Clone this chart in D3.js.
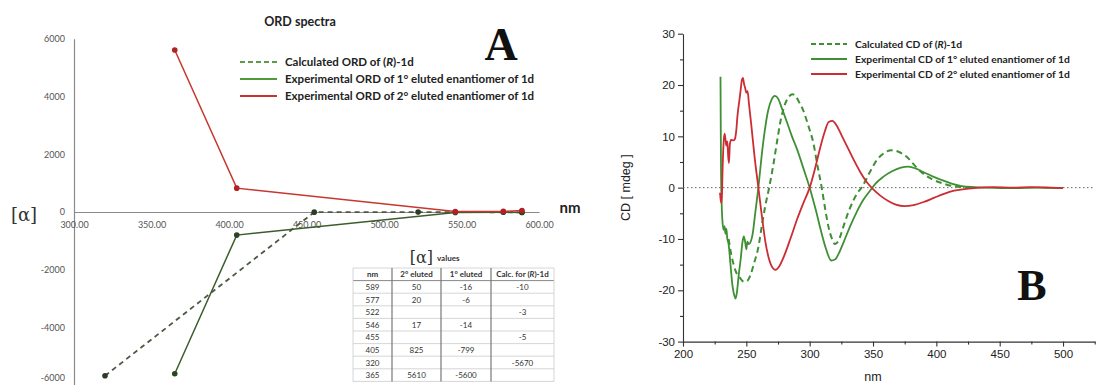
<!DOCTYPE html>
<html>
<head>
<meta charset="utf-8">
<script src="https://cdn.jsdelivr.net/npm/d3@7"></script>
<style>
  body { margin: 0; background: #fff; }
  svg { display: block; }
</style>
</head>
<body>
<script>
// ORD table ([α] values)
const tableNm = [589, 577, 522, 546, 455, 405, 320, 365]
const table2nd = [50, 20, null, 17, null, 825, null, 5610]
const table1st = [-16, -6, null, -14, null, -799, null, -5600]
const tableCalc = [-10, null, -3, null, -5, null, -5670, null]
const tableHead = ['nm', '2° eluted', '1° eluted', 'Calc. for (R)-1d']

const ordXTicks = [300, 350, 400, 450, 500, 550, 600]
const ordYTicks = [6000, 4000, 2000, 0, -2000, -4000, -6000]

// CD spectra [nm, mdeg]
const cdCalc = [[236, -10], [238.5, -13.5], [241.5, -16.2], [245, -17.6], [248, -18.3], [250.5, -18.2], [253, -17.2], [256, -14.8], [259.5, -11.6], [262.5, -7], [265, -3.5], [268, 0], [271, 4], [274, 8.6], [277, 13], [280, 15.9], [283.5, 17.7], [286.5, 18.2], [289.5, 17.6], [292, 16.5], [295, 15], [299, 12], [303, 8.6], [306, 4.5], [309.5, 0], [312, -3.8], [314.8, -7.6], [317.5, -9.9], [320, -11], [323, -10.2], [326.6, -7.6], [330.5, -4.8], [334.5, -2.5], [338, -0.9], [341, 0], [347, 2.8], [352.8, 5.3], [358, 6.6], [364.7, 7.3], [370, 7], [376.6, 6], [383, 4.3], [389.7, 2.7], [397, 1.6], [405.5, 0.8], [413, 0.3], [421, 0.1], [430, 0]]
const cdExp1 = [[229.6, 21.6], [229.8, 12], [230, 4], [230.4, -2], [231, -6], [232, -8.2], [232.8, -7.5], [233.5, -9], [234.2, -8], [235, -10], [236, -11], [237.5, -15], [239, -19], [240.5, -21], [241.5, -21.6], [242.5, -20.5], [244, -17], [245.5, -14], [247, -10.5], [248, -9.5], [249, -10.5], [250, -12], [250.8, -10.5], [252, -11], [253.5, -10.5], [255, -9], [257, -5], [259.5, 0], [262, 6], [264.5, 11], [267, 14.8], [270, 17.2], [272.5, 17.9], [275, 17.4], [278, 15.5], [282, 12.8], [286, 10], [290, 7.5], [295, 3.8], [300, 0], [305, -4.5], [309, -8.5], [313, -12], [317, -14.2], [320, -14], [323, -12.8], [327, -10.5], [332, -7.5], [337, -4.8], [342, -2.5], [347, -0.8], [352, 0.8], [358, 2.1], [365, 3.2], [372, 3.9], [378, 4.1], [384, 3.7], [390, 3], [397, 2.2], [405, 1.4], [412, 0.8], [420, 0.3], [430, 0.1], [440, 0], [460, -0.1], [480, 0], [500, -0.1]]
const cdExp2 = [[229.2, -1], [229.8, -2.5], [230.3, -3], [230.8, -1], [231.3, 4], [232, 8.5], [232.8, 10.5], [233.5, 9.5], [234.2, 8.2], [235, 9], [235.7, 6], [236.3, 4.8], [237, 8.5], [238, 9.3], [240, 9.2], [241, 9.5], [242, 11], [243, 14], [244.5, 17], [245.5, 19], [246.5, 21], [247.3, 21.4], [248.2, 20.2], [249, 19.5], [250, 18.5], [251, 18.8], [252, 16.5], [254, 12], [256.5, 6], [259.5, 0], [262, -5], [265, -10.5], [268, -14], [271, -15.7], [273, -16], [276, -15.3], [280, -13.2], [285, -9.8], [290, -6.2], [295, -3], [300, 0], [304, 3.5], [308, 7.5], [312, 11], [315, 12.8], [318, 13], [321, 12.2], [325, 10.3], [330, 7.8], [335, 5.3], [340, 3], [345, 1.1], [350, -0.3], [356, -1.6], [362, -2.6], [368, -3.3], [375, -3.6], [382, -3.4], [390, -2.8], [398, -2], [406, -1.2], [414, -0.6], [422, -0.3], [430, -0.1], [445, 0.1], [460, 0], [475, 0.1], [490, 0], [500, -0.1]]

const cdXMajor = [200, 250, 300, 350, 400, 450, 500]
const cdXMinor = [225, 275, 325, 375, 425, 475, 525]
const cdYMajor = [-30, -20, -10, 0, 10, 20, 30]
const cdYMinor = [-25, -15, -5, 5, 15, 25]

const RED = '#cc2c33'
const GREEN = '#3f8f35'

const svg = d3.select('body').append('svg')
  .attr('width', 1111)
  .attr('height', 385)
  .attr('viewBox', '0 0 1111 385')

// ---------------- Panel A: ORD ----------------
const ord = svg.append('g').attr('font-family', 'Lato, "Open Sans", sans-serif')

const xOrd = d3.scaleLinear().domain([300, 600]).range([74, 539])
const yOrd = d3.scaleLinear().domain([-6000, 6000]).range([385.3, 38.7])

const seriesFrom = vals => tableNm
  .map((nm, i) => [nm, vals[i]])
  .filter(d => d[1] !== null)
  .sort((a, b) => a[0] - b[0])

const ordSeries = [
  { data: seriesFrom(tableCalc), color: '#4d5a43', marker: '#2e3a26', dash: '5,4' },
  { data: seriesFrom(table1st), color: '#3d5c2c', marker: '#2c4520', dash: null },
  { data: seriesFrom(table2nd), color: '#c7372f', marker: '#b32025', dash: null }
]

const yAxisOrd = ord.append('g')
  .attr('transform', `translate(${xOrd(300)},0)`)
  .call(d3.axisLeft(yOrd).tickValues(ordYTicks).tickSize(0).tickPadding(9).tickFormat(d => String(d)))
yAxisOrd.select('.domain').attr('stroke', '#8a8a8a').attr('stroke-width', 1.2)
yAxisOrd.selectAll('text').attr('fill', '#555').style('font-size', '9px').style('font-family', 'Lato, sans-serif')
// bottom label sits right at the picture edge; lift it just enough to stay whole
yAxisOrd.selectAll('.tick').filter(d => d === -6000).select('text').attr('dy', '-0.55em')

const xAxisOrd = ord.append('g')
  .attr('transform', `translate(0,${yOrd(0)})`)
  .call(d3.axisBottom(xOrd).tickValues(ordXTicks).tickSize(0).tickPadding(10).tickFormat(d3.format('.2f')))
xAxisOrd.select('.domain').attr('stroke', '#8a8a8a').attr('stroke-width', 1.2)
xAxisOrd.selectAll('text').attr('fill', '#555').style('font-size', '9px').style('font-family', 'Lato, sans-serif')

const lineOrd = d3.line().x(d => xOrd(d[0])).y(d => yOrd(d[1]))

ordSeries.forEach(s => {
  ord.append('path')
    .datum(s.data)
    .attr('d', lineOrd)
    .attr('fill', 'none')
    .attr('stroke', s.color)
    .attr('stroke-width', s.dash ? 1.8 : 1.5)
    .attr('stroke-dasharray', s.dash)
  ord.append('g').selectAll('circle')
    .data(s.data)
    .join('circle')
    .attr('cx', d => xOrd(d[0]))
    .attr('cy', d => yOrd(d[1]))
    .attr('r', 2.8)
    .attr('fill', s.marker)
})

ord.append('text')
  .attr('x', 300).attr('y', 26)
  .attr('text-anchor', 'middle')
  .attr('font-weight', 700).attr('font-size', 12.5).attr('fill', '#222')
  .text('ORD spectra')

ord.append('text')
  .attr('x', 570).attr('y', 213)
  .attr('text-anchor', 'middle')
  .attr('font-weight', 700).attr('font-size', 15).attr('fill', '#222')
  .text('nm')

ord.append('text')
  .attr('x', 24).attr('y', 221)
  .attr('text-anchor', 'middle')
  .attr('font-family', '"DejaVu Serif", serif')
  .attr('font-size', 18).attr('fill', '#333')
  .text('[α]')

svg.append('text')
  .attr('x', 501).attr('y', 60)
  .attr('text-anchor', 'middle')
  .attr('font-family', '"Liberation Serif", serif')
  .attr('font-weight', 700).attr('font-size', 46).attr('fill', '#111')
  .text('A')

// ORD legend
const ordLegend = [
  { pre: 'Calculated ORD of (', it: 'R', post: ')-1d', color: '#5f9a47', dash: '5,3' },
  { pre: 'Experimental ORD of 1° eluted enantiomer of 1d', color: '#4f9a3c', dash: null },
  { pre: 'Experimental ORD of 2° eluted enantiomer of 1d', color: '#c0392b', dash: null }
]
const legA = ord.append('g')
ordLegend.forEach((d, i) => {
  const y = 62 + i * 17
  legA.append('line')
    .attr('x1', 240).attr('x2', 277).attr('y1', y).attr('y2', y)
    .attr('stroke', d.color).attr('stroke-width', 2).attr('stroke-dasharray', d.dash)
  const t = legA.append('text')
    .attr('x', 285).attr('y', y + 4)
    .attr('font-size', 11.5).attr('font-weight', 700).attr('fill', '#222')
  t.append('tspan').text(d.pre)
  if (d.it) {
    t.append('tspan').attr('font-style', 'italic').text(d.it)
    t.append('tspan').text(d.post)
  }
})

// [α] values table
const tbl = ord.append('g').attr('font-size', 8).attr('fill', '#333')
const colX = [353, 392, 441, 491, 554]
const rowH = 12.6
const tblTop = 268
tbl.append('text')
  .attr('x', 433).attr('y', 263)
  .attr('text-anchor', 'end')
  .attr('font-family', '"DejaVu Serif", serif')
  .attr('font-size', 16)
  .text('[α]')
tbl.append('text')
  .attr('x', 437).attr('y', 261)
  .attr('font-size', 8).attr('font-weight', 700)
  .text('values')

const rows = tableNm.map((nm, i) => [nm, table2nd[i], table1st[i], tableCalc[i]])
const nRows = rows.length + 1
for (let r = 0; r <= nRows; r++) {
  tbl.append('line')
    .attr('x1', colX[0]).attr('x2', colX[4])
    .attr('y1', tblTop + r * rowH).attr('y2', tblTop + r * rowH)
    .attr('stroke', r === 1 ? '#888' : '#ccc').attr('stroke-width', r === 1 ? 1 : 0.8)
}
colX.forEach((x, c) => {
  tbl.append('line')
    .attr('x1', x).attr('x2', x)
    .attr('y1', tblTop).attr('y2', tblTop + nRows * rowH)
    .attr('stroke', c === 0 || c === 4 ? '#ccc' : '#777').attr('stroke-width', c === 0 || c === 4 ? 0.8 : 1.2)
})
tableHead.forEach((h, c) => {
  const t = tbl.append('text')
    .attr('x', (colX[c] + colX[c + 1]) / 2)
    .attr('y', tblTop + rowH / 2 + 3)
    .attr('text-anchor', 'middle')
    .attr('font-weight', 700)
  if (c === 3) {
    t.append('tspan').text('Calc. for (')
    t.append('tspan').attr('font-style', 'italic').text('R')
    t.append('tspan').text(')-1d')
  } else {
    t.text(h)
  }
})
rows.forEach((row, r) => {
  row.forEach((v, c) => {
    if (v === null) return
    tbl.append('text')
      .attr('x', (colX[c] + colX[c + 1]) / 2)
      .attr('y', tblTop + (r + 1) * rowH + rowH / 2 + 3)
      .attr('text-anchor', 'middle')
      .text(String(v))
  })
})

// ---------------- Panel B: CD ----------------
const cd = svg.append('g').attr('font-family', '"Liberation Sans", Arial, sans-serif')

const xCd = d3.scaleLinear().domain([200, 525]).range([683, 1094.7])
const yCd = d3.scaleLinear().domain([-30, 30]).range([341.6, 33.7])

const styleAxis = g => {
  g.select('.domain').attr('stroke', '#333').attr('stroke-width', 1.1)
  g.selectAll('.tick line').attr('stroke', '#333').attr('stroke-width', 1.1)
  g.selectAll('text').attr('fill', '#222').style('font-size', '11.5px')
}

cd.append('g')
  .attr('transform', `translate(0,${yCd(-30)})`)
  .call(d3.axisBottom(xCd).tickValues(cdXMajor).tickSizeInner(5).tickSizeOuter(0).tickPadding(3))
  .call(styleAxis)
cd.append('g')
  .attr('transform', `translate(0,${yCd(-30)})`)
  .call(d3.axisBottom(xCd).tickValues(cdXMinor).tickSize(3).tickFormat(''))
  .call(g => g.select('.domain').remove())
  .call(styleAxis)

cd.append('g')
  .attr('transform', `translate(${xCd(200)},0)`)
  .call(d3.axisLeft(yCd).tickValues(cdYMajor).tickSizeInner(5).tickSizeOuter(0).tickPadding(3).tickFormat(d => String(d)))
  .call(styleAxis)
cd.append('g')
  .attr('transform', `translate(${xCd(200)},0)`)
  .call(d3.axisLeft(yCd).tickValues(cdYMinor).tickSize(3).tickFormat(''))
  .call(g => g.select('.domain').remove())
  .call(styleAxis)

cd.append('line')
  .attr('x1', xCd(200)).attr('x2', xCd(525))
  .attr('y1', yCd(0)).attr('y2', yCd(0))
  .attr('stroke', '#666').attr('stroke-width', 1).attr('stroke-dasharray', '1.5,2.5')

const lineCd = d3.line().x(d => xCd(d[0])).y(d => yCd(d[1])).curve(d3.curveMonotoneX)

cd.append('path').datum(cdCalc)
  .attr('d', lineCd).attr('fill', 'none')
  .attr('stroke', GREEN).attr('stroke-width', 2).attr('stroke-dasharray', '6,4')
cd.append('path').datum(cdExp1)
  .attr('d', lineCd).attr('fill', 'none')
  .attr('stroke', GREEN).attr('stroke-width', 1.8)
cd.append('path').datum(cdExp2)
  .attr('d', lineCd).attr('fill', 'none')
  .attr('stroke', RED).attr('stroke-width', 1.8)

cd.append('text')
  .attr('x', xCd(350)).attr('y', 381)
  .attr('text-anchor', 'middle').attr('font-size', 12.5).attr('fill', '#222')
  .text('nm')

cd.append('text')
  .attr('transform', `translate(630,${yCd(0)}) rotate(-90)`)
  .attr('text-anchor', 'middle').attr('font-size', 12.5).attr('fill', '#222')
  .text('CD [ mdeg ]')

svg.append('text')
  .attr('x', 1032).attr('y', 300)
  .attr('text-anchor', 'middle')
  .attr('font-family', '"Liberation Serif", serif')
  .attr('font-weight', 700).attr('font-size', 44).attr('fill', '#111')
  .text('B')

const cdLegend = [
  { pre: 'Calculated CD of (', it: 'R', post: ')-1d', color: GREEN, dash: '5,3' },
  { pre: 'Experimental CD of 1° eluted enantiomer of 1d', color: GREEN, dash: null },
  { pre: 'Experimental CD of 2° eluted enantiomer of 1d', color: RED, dash: null }
]
const legB = svg.append('g').attr('font-family', 'Lato, "Open Sans", sans-serif')
cdLegend.forEach((d, i) => {
  const y = 44 + i * 15
  legB.append('line')
    .attr('x1', 811).attr('x2', 847).attr('y1', y).attr('y2', y)
    .attr('stroke', d.color).attr('stroke-width', 1.8).attr('stroke-dasharray', d.dash)
  const t = legB.append('text')
    .attr('x', 855).attr('y', y + 3.5)
    .attr('font-size', 10.3).attr('font-weight', 700).attr('fill', '#222')
  t.append('tspan').text(d.pre)
  if (d.it) {
    t.append('tspan').attr('font-style', 'italic').text(d.it)
    t.append('tspan').text(d.post)
  }
})
</script>
</body>
</html>
